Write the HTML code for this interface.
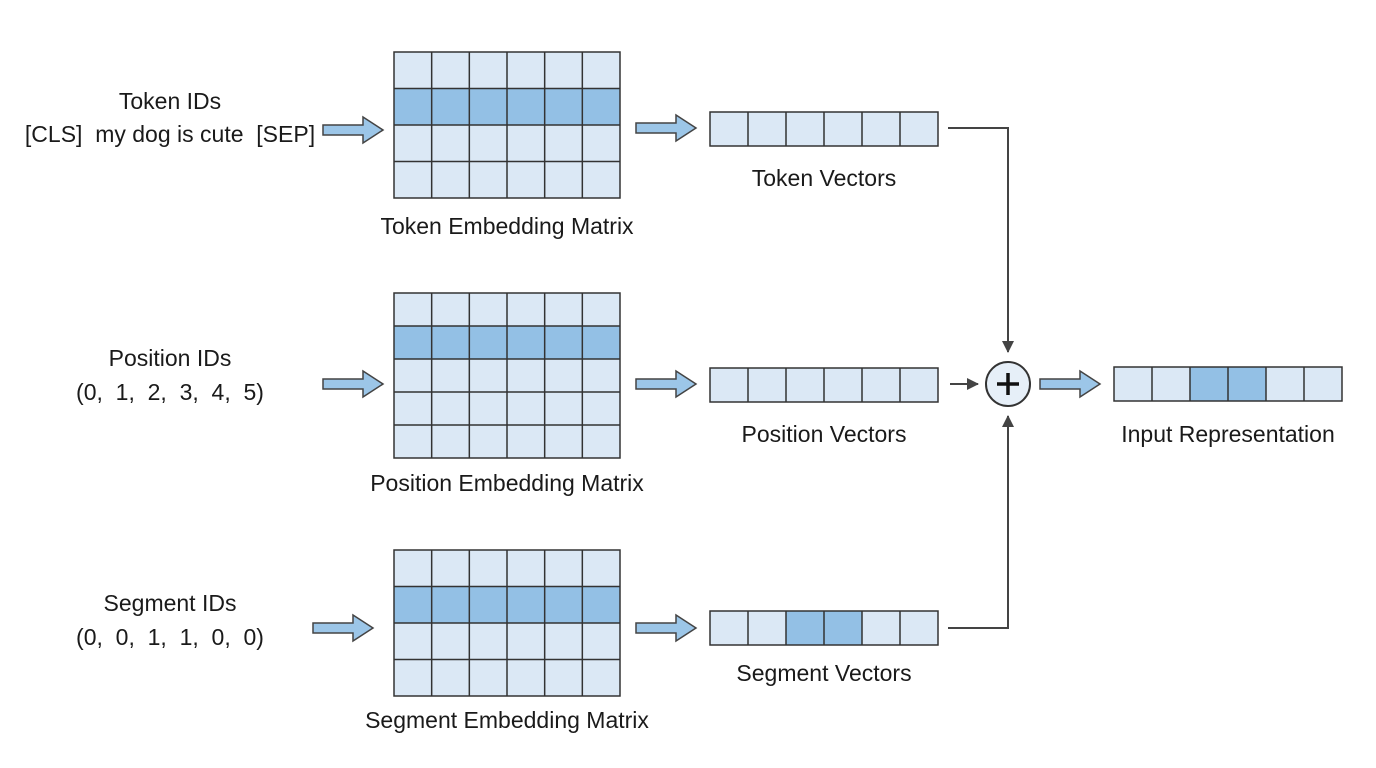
<!DOCTYPE html>
<html><head><style>html,body{margin:0;background:#fff;overflow:hidden;width:1376px;height:768px}svg{display:block}text{font-family:"Liberation Sans",sans-serif;fill:#1a1a1a;text-anchor:middle}</style></head><body>
<svg width="1376" height="768" viewBox="0 0 1376 768" xmlns="http://www.w3.org/2000/svg">
<defs>
<marker id="ah" markerWidth="12" markerHeight="12" refX="11" refY="6" orient="auto" markerUnits="userSpaceOnUse"><path d="M0,0 L12,6 L0,12 Z" fill="#444"/></marker>
<g id="ba"><path d="M0,-5 H40 V-13 L60,0 L40,13 V5 H0 Z" fill="#9cc6e8" stroke="#444" stroke-width="1.5"/></g>
<g id="vc" stroke="#333" stroke-width="1.5"><path d="M38,0 V34 M76,0 V34 M114,0 V34 M152,0 V34 M190,0 V34"/></g>
</defs>
<!-- token matrix -->
<rect x="394" y="52" width="226" height="146" fill="#dbe8f5"/>
<rect x="394" y="88.5" width="226" height="36.5" fill="#93c0e5"/>
<path d="M431.67,52 V198 M469.33,52 V198 M507,52 V198 M544.67,52 V198 M582.33,52 V198 M394,88.5 H620 M394,125 H620 M394,161.5 H620" stroke="#333" stroke-width="1.5"/>
<rect x="394" y="52" width="226" height="146" fill="none" stroke="#333" stroke-width="1.5"/>
<!-- position matrix -->
<rect x="394" y="293" width="226" height="165" fill="#dbe8f5"/>
<rect x="394" y="326" width="226" height="33" fill="#93c0e5"/>
<path d="M431.67,293 V458 M469.33,293 V458 M507,293 V458 M544.67,293 V458 M582.33,293 V458 M394,326 H620 M394,359 H620 M394,392 H620 M394,425 H620" stroke="#333" stroke-width="1.5"/>
<rect x="394" y="293" width="226" height="165" fill="none" stroke="#333" stroke-width="1.5"/>
<!-- segment matrix -->
<rect x="394" y="550" width="226" height="146" fill="#dbe8f5"/>
<rect x="394" y="586.5" width="226" height="36.5" fill="#93c0e5"/>
<path d="M431.67,550 V696 M469.33,550 V696 M507,550 V696 M544.67,550 V696 M582.33,550 V696 M394,586.5 H620 M394,623 H620 M394,659.5 H620" stroke="#333" stroke-width="1.5"/>
<rect x="394" y="550" width="226" height="146" fill="none" stroke="#333" stroke-width="1.5"/>
<!-- vectors -->
<rect x="710" y="112" width="228" height="34" fill="#dbe8f5" stroke="#333" stroke-width="1.5"/>
<use href="#vc" x="710" y="112"/>
<rect x="710" y="368" width="228" height="34" fill="#dbe8f5" stroke="#333" stroke-width="1.5"/>
<use href="#vc" x="710" y="368"/>
<rect x="710" y="611" width="228" height="34" fill="#dbe8f5"/>
<rect x="786" y="611" width="76" height="34" fill="#93c0e5"/>
<rect x="710" y="611" width="228" height="34" fill="none" stroke="#333" stroke-width="1.5"/>
<use href="#vc" x="710" y="611"/>
<rect x="1114" y="367" width="228" height="34" fill="#dbe8f5"/>
<rect x="1190" y="367" width="76" height="34" fill="#93c0e5"/>
<rect x="1114" y="367" width="228" height="34" fill="none" stroke="#333" stroke-width="1.5"/>
<use href="#vc" x="1114" y="367"/>

<g font-size="23">
<text x="170" y="109">Token IDs</text>
<text x="170" y="142" xml:space="preserve">[CLS]  my dog is cute  [SEP]</text>
<text x="170" y="366">Position IDs</text>
<text x="170" y="400" xml:space="preserve">(0,  1,  2,  3,  4,  5)</text>
<text x="170" y="611">Segment IDs</text>
<text x="170" y="645" xml:space="preserve">(0,  0,  1,  1,  0,  0)</text>
<text x="507" y="234">Token Embedding Matrix</text>
<text x="507" y="491">Position Embedding Matrix</text>
<text x="507" y="728">Segment Embedding Matrix</text>
<text x="824" y="186">Token Vectors</text>
<text x="824" y="442">Position Vectors</text>
<text x="824" y="681">Segment Vectors</text>
<text x="1228" y="442">Input Representation</text>
</g>
<use href="#ba" x="323" y="130"/><use href="#ba" x="323" y="384"/><use href="#ba" x="313" y="628"/>
<use href="#ba" x="636" y="128"/><use href="#ba" x="636" y="384"/><use href="#ba" x="636" y="628"/>
<use href="#ba" x="1040" y="384"/>
<path d="M948,128 H1008 V352" fill="none" stroke="#444" stroke-width="2" marker-end="url(#ah)"/>
<path d="M948,628 H1008 V416" fill="none" stroke="#444" stroke-width="2" marker-end="url(#ah)"/>
<path d="M950,384 H978" fill="none" stroke="#444" stroke-width="2" marker-end="url(#ah)"/>
<circle cx="1008" cy="384" r="22" fill="#e6eff8" stroke="#333" stroke-width="2"/>
<path d="M997,384 H1019 M1008,373 V395" stroke="#111" stroke-width="3.5"/>
</svg>
</body></html>
